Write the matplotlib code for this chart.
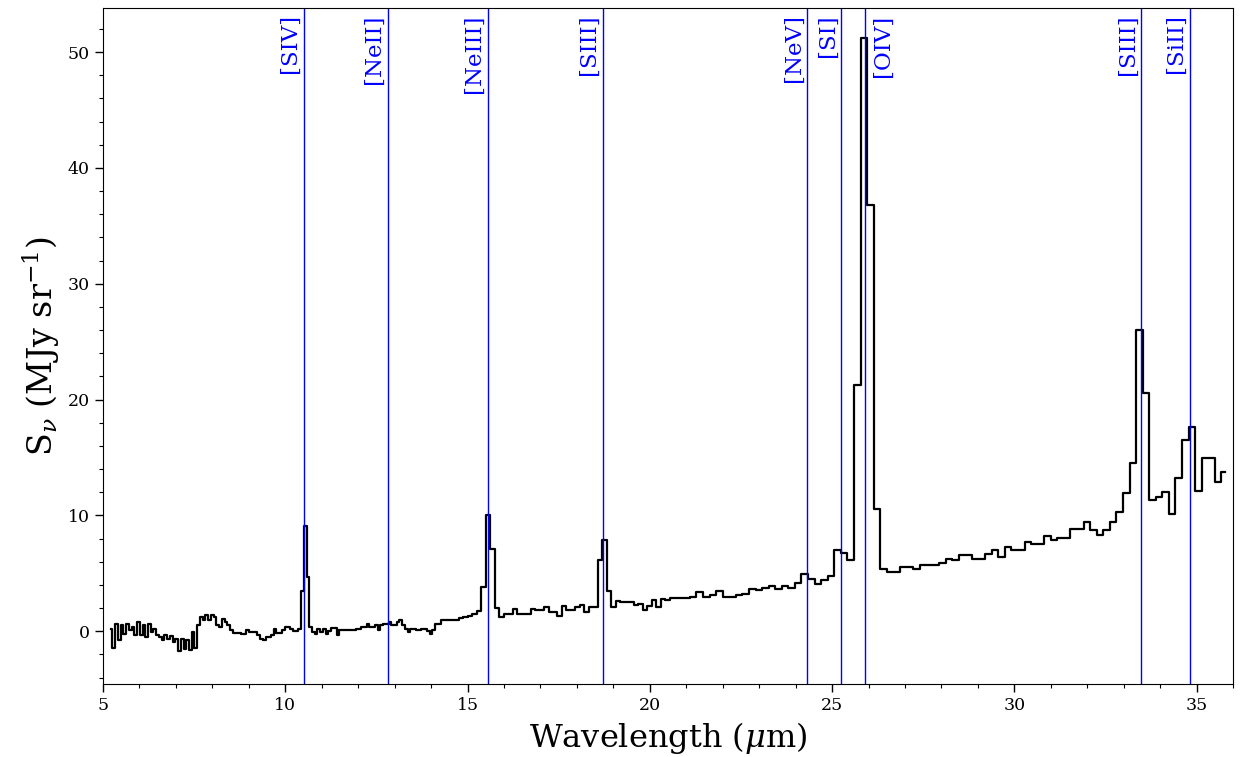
import matplotlib
matplotlib.use("Agg")
import matplotlib.pyplot as plt
from matplotlib.ticker import MultipleLocator
import numpy as np

plt.rcParams['font.family'] = ['DejaVu Serif']
plt.rcParams['mathtext.fontset'] = 'dejavuserif'

# ---- Short-Low module (wavelength in micron, flux in MJy/sr) ----
sl_wave = [5.220, 5.295, 5.370, 5.445, 5.520, 5.595, 5.670, 5.745, 5.820, 5.895,
           5.970, 6.045, 6.120, 6.195, 6.270, 6.345, 6.420, 6.495, 6.570, 6.645,
           6.720, 6.795, 6.870, 6.945, 7.020, 7.095, 7.170, 7.245, 7.320, 7.395,
           7.470, 7.545, 7.620, 7.695, 7.770, 7.845, 7.920, 7.995, 8.070, 8.145,
           8.220, 8.295, 8.370, 8.445, 8.520, 8.595, 8.670, 8.745, 8.820, 8.895,
           8.970, 9.045, 9.120, 9.195, 9.270, 9.345, 9.420, 9.495, 9.570, 9.645,
           9.720, 9.795, 9.870, 9.945, 10.020, 10.095, 10.170, 10.245, 10.320, 10.395,
           10.470, 10.545, 10.620, 10.695, 10.770, 10.845, 10.920, 10.995, 11.070, 11.145,
           11.220, 11.295, 11.370, 11.445, 11.520, 11.595, 11.670, 11.745, 11.820, 11.895,
           11.970, 12.045, 12.120, 12.195, 12.270, 12.345, 12.420, 12.495, 12.570, 12.645,
           12.720, 12.795, 12.870, 12.945, 13.020, 13.095, 13.170, 13.245, 13.320, 13.395,
           13.470, 13.545, 13.620, 13.695, 13.770, 13.845, 13.920, 13.995, 14.070, 14.145,
           14.220]
sl_flux = [0.23, -1.40, 0.66, -0.78, 0.52, -0.20, 0.66, 0.08, 0.37, -0.35,
           0.80, -0.35, 0.52, -0.49, 0.66, -0.06, 0.23, -0.35, -0.49, -0.78,
           -0.35, -0.64, -0.43, -0.93, -0.64, -1.70, -0.64, -1.55, -0.78, -1.60,
           -0.06, -1.40, 0.52, 1.24, 1.01, 1.38, 0.95, 1.38, 1.20, 0.52,
           0.37, 1.10, 0.80, 0.52, 0.08, -0.14, -0.14, -0.14, -0.26, -0.26,
           0.08, -0.06, -0.06, -0.06, -0.35, -0.64, -0.78, -0.49, -0.49, -0.35,
           0.23, -0.14, -0.14, 0.08, 0.37, 0.37, 0.20, 0.03, 0.03, 0.23,
           3.50, 9.10, 4.70, 0.37, -0.06, -0.20, 0.23, -0.06, 0.23, -0.20,
           0.03, 0.30, 0.30, -0.35, 0.09, 0.09, 0.09, 0.09, 0.09, 0.09,
           0.23, 0.23, 0.37, 0.37, 0.66, 0.37, 0.37, 0.52, 0.09, 0.52,
           0.66, 0.66, 0.80, 0.52, 0.52, 0.80, 0.95, 0.52, 0.23, -0.06,
           0.23, 0.23, 0.09, 0.09, 0.23, 0.23, 0.03, -0.20, 0.15, 0.66,
           0.66]

# ---- Long-Low 2 module ----
ll2_wave = [14.330, 14.453, 14.576, 14.699, 14.822, 14.945, 15.068, 15.191, 15.314, 15.437,
            15.560, 15.683, 15.806, 15.929, 16.052, 16.175, 16.298, 16.421, 16.544, 16.667,
            16.790, 16.913, 17.036, 17.159, 17.282, 17.405, 17.528, 17.651, 17.774, 17.897,
            18.020, 18.143, 18.266, 18.389, 18.512, 18.635, 18.758, 18.881, 19.004, 19.127,
            19.250, 19.373, 19.496, 19.619, 19.742, 19.865, 19.988, 20.111, 20.234, 20.357,
            20.480]
ll2_flux = [0.95, 0.95, 0.95, 0.95, 1.18, 1.20, 1.30, 1.50, 1.75, 3.83,
            10.00, 7.14, 2.00, 1.24, 1.52, 1.52, 1.96, 1.52, 1.52, 1.52,
            1.96, 1.82, 1.82, 2.10, 1.67, 1.67, 1.30, 2.16, 1.82, 1.82,
            2.10, 2.25, 1.67, 2.10, 2.10, 6.14, 7.86, 3.52, 2.10, 2.59,
            2.53, 2.53, 2.53, 2.25, 2.39, 1.81, 2.20, 2.68, 2.10, 2.82,
            2.68]

# ---- Long-Low 1 module ----
ll1_wave = [20.65, 20.83, 21.01, 21.19, 21.37, 21.55, 21.73, 21.91, 22.09, 22.27,
            22.45, 22.63, 22.81, 22.99, 23.17, 23.35, 23.53, 23.71, 23.89, 24.07,
            24.25, 24.43, 24.61, 24.79, 24.97, 25.15, 25.33, 25.51, 25.69, 25.87,
            26.05, 26.23, 26.41, 26.59, 26.77, 26.95, 27.13, 27.31, 27.49, 27.67,
            27.85, 28.03, 28.21, 28.39, 28.57, 28.75, 28.93, 29.11, 29.29, 29.47,
            29.65, 29.83, 30.01, 30.19, 30.37, 30.55, 30.73, 30.91, 31.09, 31.27,
            31.45, 31.63, 31.81, 31.99, 32.17, 32.35, 32.53, 32.71, 32.89, 33.07,
            33.25, 33.43, 33.61, 33.79, 33.97, 34.15, 34.33, 34.51, 34.69, 34.87,
            35.05, 35.23, 35.41, 35.59, 35.77]
ll1_flux = [2.88, 2.88, 2.88, 3.00, 3.40, 2.97, 3.17, 3.48, 2.97, 2.97,
            3.11, 3.25, 3.68, 3.54, 3.77, 3.89, 3.68, 3.89, 3.77, 4.17,
            4.98, 4.55, 4.12, 4.46, 4.75, 7.05, 6.76, 6.13, 21.30, 51.20,
            36.80, 10.60, 5.41, 5.12, 5.12, 5.56, 5.56, 5.41, 5.70, 5.70,
            5.70, 5.90, 6.27, 6.13, 6.56, 6.56, 6.27, 6.27, 6.70, 6.99,
            6.41, 7.28, 6.99, 6.99, 7.71, 7.57, 7.57, 8.20, 7.86, 8.09,
            8.09, 8.86, 8.86, 9.44, 8.72, 8.29, 8.72, 9.44, 10.30, 11.90,
            14.50, 26.05, 20.60, 11.30, 11.60, 12.00, 10.16, 13.20, 16.50, 17.64,
            12.08, 14.96, 14.96, 12.90, 13.76]

# ---- Emission lines ----
line_names = ['[SIV]', '[NeII]', '[NeIII]', '[SIII]', '[NeV]', '[SI]', '[OIV]', '[SIII]', '[SiII]']
line_waves = [10.51, 12.81, 15.56, 18.71, 24.32, 25.25, 25.89, 33.48, 34.81]
label_side = ['left', 'left', 'left', 'left', 'left', 'left', 'right', 'left', 'left']

wave = np.array(sl_wave + ll2_wave + ll1_wave)
flux = np.array(sl_flux + ll2_flux + ll1_flux)

fig = plt.figure(figsize=(12.43, 7.57), dpi=100)
ax = fig.add_axes([0.0829, 0.0964, 0.9091, 0.8930])

ax.step(wave, flux, where='mid', color='black', lw=1.6)

for name, w, side in zip(line_names, line_waves, label_side):
    ax.axvline(w, color='#0000ff', lw=1.0)
    if side == 'left':
        ax.annotate(name, xy=(w, 1.0), xycoords=('data', 'axes fraction'),
                    xytext=(-2, -4.5), textcoords='offset points',
                    rotation=90, ha='right', va='top', color='#0000ff', fontsize=16.5)
    else:
        ax.annotate(name, xy=(w, 1.0), xycoords=('data', 'axes fraction'),
                    xytext=(5, -4.5), textcoords='offset points',
                    rotation=90, ha='left', va='top', color='#0000ff', fontsize=16.5)

ax.set_xlim(5, 36)
ax.set_ylim(-4.55, 53.8)
ax.xaxis.set_major_locator(MultipleLocator(5))
ax.xaxis.set_minor_locator(MultipleLocator(1))
ax.yaxis.set_major_locator(MultipleLocator(10))
ax.yaxis.set_minor_locator(MultipleLocator(2))
ax.tick_params(which='major', length=6, width=1, labelsize=12.5, direction='out')
ax.tick_params(which='minor', length=3, width=0.8, direction='out')

ax.set_xlabel(r'Wavelength ($\mu$m)', fontsize=23)
ax.set_ylabel(r'S$_\nu$ (MJy sr$^{-1}$)', fontsize=24)

fig.savefig('out.png', dpi=100)
